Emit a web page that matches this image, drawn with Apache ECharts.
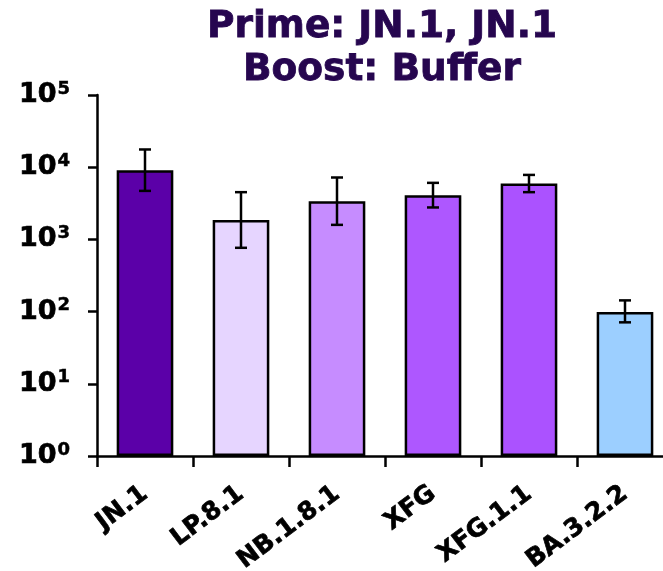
<!DOCTYPE html>
<html>
<head>
<meta charset="utf-8">
<script src="https://cdn.jsdelivr.net/npm/echarts@6/dist/echarts.min.js"></script>
<style>
  html, body { margin: 0; padding: 0; background: #fff; }
  #chart { width: 663px; height: 571px; }
</style>
</head>
<body>
<div id="chart"></div>
<script>
// Variants and their titres (geometric mean with lower / upper error bounds)
const variants = ['JN.1', 'LP.8.1', 'NB.1.8.1', 'XFG', 'XFG.1.1', 'BA.3.2.2'];
const titres = [9080, 1850, 3380, 4100, 5950, 99];
const errLow = [4700, 765, 1590, 2770, 4510, 71];
const errHigh = [17600, 4510, 7200, 6070, 7820, 143];
const barColors = ['#5B00A8', '#E6D5FF', '#C68CFF', '#AE57FF', '#AB52FF', '#9CCFFF'];
const yTicks = [1, 10, 100, 1000, 10000, 100000];

const chart = echarts.init(document.getElementById('chart'));

const fontFamily = '"DejaVu Sans", Verdana, sans-serif';

chart.setOption({
  animation: false,
  title: {
    text: 'Prime: JN.1, JN.1\nBoost: Buffer',
    left: 377,
    top: 1,
    textAlign: 'center',
    textStyle: {
      fontFamily: fontFamily,
      fontSize: 37.5,
      fontWeight: 'bold',
      color: '#26064F',
      textBorderColor: '#26064F',
      textBorderWidth: 0.8,
      lineHeight: 43
    }
  },
  // the last category runs a little past the right edge of the canvas
  grid: {
    left: 97, top: 95, bottom: 115, right: -10,
    containLabel: false,
    outerBoundsMode: 'none'
  },
  xAxis: {
    type: 'category',
    data: variants,
    boundaryGap: true,
    axisLine: { lineStyle: { color: '#000', width: 2.5 } },
    axisTick: { show: true, length: 11, lineStyle: { color: '#000', width: 2.5 } },
    axisLabel: {
      rotate: 37,
      margin: 35,
      color: '#000',
      textBorderColor: '#000',
      textBorderWidth: 0.7,
      fontFamily: fontFamily,
      fontSize: 25,
      fontWeight: 'bold'
    }
  },
  yAxis: {
    type: 'log',
    logBase: 10,
    min: yTicks[0],
    max: yTicks[yTicks.length - 1],
    axisLine: { show: true, lineStyle: { color: '#000', width: 2.5 } },
    axisTick: { show: true, length: 9, lineStyle: { color: '#000', width: 2.5 } },
    splitLine: { show: false },
    minorTick: { show: false },
    axisLabel: {
      margin: 27,
      formatter: function (v) {
        return '{b|10}{s|' + Math.round(Math.log10(v)) + '}';
      },
      rich: {
        b: { fontFamily: fontFamily, fontSize: 27, fontWeight: 'bold', color: '#000', textBorderColor: '#000', textBorderWidth: 0.7 },
        s: { fontFamily: fontFamily, fontSize: 18, fontWeight: 'bold', color: '#000', textBorderColor: '#000', textBorderWidth: 0.5, verticalAlign: 'top', padding: [0, 0, 12, 1] }
      }
    }
  },
  series: [
    {
      type: 'bar',
      barWidth: '59%',
      data: titres.map((v, i) => ({
        value: v,
        itemStyle: { color: barColors[i], borderColor: '#000', borderWidth: 2.5 }
      }))
    },
    {
      type: 'custom',
      z: 10,
      data: variants.map((_, i) => [i, errLow[i], errHigh[i]]),
      renderItem: function (params, api) {
        const x = api.value(0);
        const lo = api.coord([x, api.value(1)]);
        const hi = api.coord([x, api.value(2)]);
        const cap = 6;
        const style = { stroke: '#000', lineWidth: 2.5, fill: null };
        return {
          type: 'group',
          children: [
            { type: 'line', shape: { x1: lo[0], y1: lo[1], x2: hi[0], y2: hi[1] }, style: style },
            { type: 'line', shape: { x1: hi[0] - cap, y1: hi[1], x2: hi[0] + cap, y2: hi[1] }, style: style },
            { type: 'line', shape: { x1: lo[0] - cap, y1: lo[1], x2: lo[0] + cap, y2: lo[1] }, style: style }
          ]
        };
      }
    }
  ]
});
</script>
</body>
</html>
